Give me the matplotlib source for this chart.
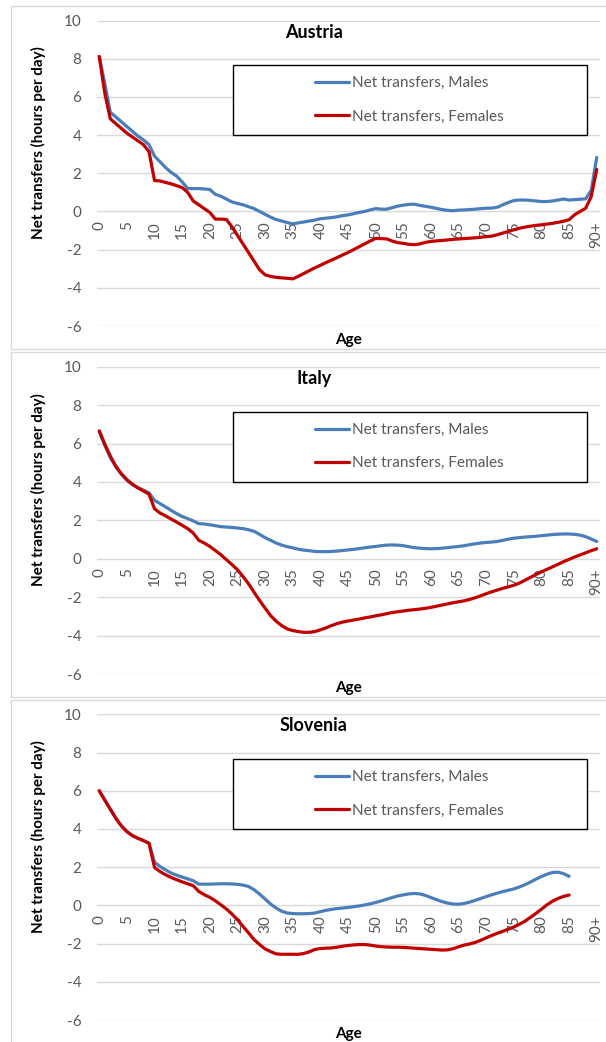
import numpy as np
import matplotlib
matplotlib.use("Agg")
import matplotlib.pyplot as plt
from matplotlib.patches import Rectangle

plt.rcParams['font.family'] = ['Lato', 'DejaVu Sans']
plt.rcParams['axes.unicode_minus'] = False

nan = np.nan
ages = list(range(0, 91))
tick_positions = list(range(0, 91, 5))
tick_labels = [str(a) for a in range(0, 90, 5)] + ['90+']

countries = ['Austria', 'Italy', 'Slovenia']

austria_males = [
    8.12, 6.7, 5.2, 4.95, 4.7, 4.45, 4.2, 3.95, 3.75, 3.5,
    2.9, 2.6, 2.3, 2.05, 1.85, 1.55, 1.2, 1.2, 1.2, 1.18,
    1.15, 0.9, 0.8, 0.65, 0.5, 0.42, 0.35, 0.25, 0.15, 0.0,
    -0.15, -0.3, -0.42, -0.5, -0.58, -0.65, -0.6, -0.55, -0.5, -0.45,
    -0.38, -0.35, -0.32, -0.28, -0.22, -0.18, -0.12, -0.05, 0.0, 0.08,
    0.15, 0.12, 0.12, 0.2, 0.28, 0.33, 0.37, 0.38, 0.32, 0.27,
    0.22, 0.16, 0.1, 0.06, 0.04, 0.07, 0.08, 0.1, 0.12, 0.15,
    0.17, 0.18, 0.22, 0.35, 0.47, 0.57, 0.6, 0.6, 0.58, 0.55,
    0.52, 0.52, 0.55, 0.6, 0.65, 0.6, 0.62, 0.64, 0.66, 1.1,
    2.83]
austria_females = [
    8.12, 6.2, 4.85, 4.6, 4.35, 4.1, 3.9, 3.7, 3.5, 3.13,
    1.62, 1.6, 1.52, 1.45, 1.35, 1.25, 1.0, 0.55, 0.35, 0.15,
    -0.05, -0.4, -0.4, -0.42, -0.8, -1.25, -1.7, -2.15, -2.6, -3.05,
    -3.32, -3.4, -3.45, -3.48, -3.5, -3.53, -3.4, -3.25, -3.1, -2.95,
    -2.82, -2.68, -2.55, -2.42, -2.28, -2.15, -2.0, -1.85, -1.7, -1.55,
    -1.41, -1.42, -1.44, -1.55, -1.63, -1.67, -1.72, -1.74, -1.7, -1.62,
    -1.57, -1.54, -1.52, -1.49, -1.46, -1.44, -1.42, -1.4, -1.38, -1.35,
    -1.32, -1.29, -1.22, -1.13, -1.05, -0.96, -0.88, -0.82, -0.77, -0.73,
    -0.7, -0.66, -0.62, -0.57, -0.51, -0.43, -0.17, 0.0, 0.17, 0.78,
    2.2]

italy_males = [
    6.61, 5.9, 5.27, 4.78, 4.4, 4.09, 3.86, 3.7, 3.57, 3.43,
    3.04, 2.87, 2.7, 2.52, 2.35, 2.2, 2.09, 1.97, 1.83, 1.81,
    1.77, 1.72, 1.67, 1.65, 1.63, 1.6, 1.57, 1.51, 1.43, 1.27,
    1.1, 0.96, 0.82, 0.71, 0.63, 0.57, 0.5, 0.45, 0.42, 0.38,
    0.37, 0.37, 0.38, 0.4, 0.43, 0.46, 0.49, 0.53, 0.57, 0.61,
    0.64, 0.68, 0.71, 0.72, 0.71, 0.68, 0.63, 0.58, 0.55, 0.53,
    0.52, 0.53, 0.55, 0.58, 0.61, 0.64, 0.68, 0.73, 0.78, 0.82,
    0.85, 0.87, 0.9, 0.96, 1.02, 1.07, 1.1, 1.13, 1.15, 1.17,
    1.2, 1.23, 1.26, 1.28, 1.29, 1.29, 1.27, 1.23, 1.15, 1.03,
    0.9]
italy_females = [
    6.66, 5.97, 5.34, 4.82, 4.43, 4.12, 3.88, 3.69, 3.53, 3.36,
    2.6, 2.38, 2.23, 2.07, 1.91, 1.74, 1.57, 1.34, 0.96, 0.82,
    0.64, 0.43, 0.21, -0.05, -0.3, -0.57, -0.92, -1.3, -1.74, -2.17,
    -2.57, -2.96, -3.25, -3.48, -3.65, -3.74, -3.79, -3.83, -3.83, -3.79,
    -3.7, -3.6, -3.48, -3.38, -3.3, -3.24, -3.19, -3.14, -3.08, -3.03,
    -2.97, -2.92, -2.86, -2.8, -2.76, -2.72, -2.68, -2.65, -2.62, -2.58,
    -2.53, -2.47, -2.41, -2.35, -2.29, -2.24, -2.19, -2.12, -2.03, -1.93,
    -1.82, -1.72, -1.63, -1.54, -1.46, -1.38, -1.27, -1.12, -0.97, -0.82,
    -0.68, -0.55, -0.42, -0.29, -0.15, -0.03, 0.09, 0.2, 0.31, 0.42,
    0.52]

slovenia_males = [
    6.0, 5.51, 5.03, 4.56, 4.16, 3.86, 3.65, 3.51, 3.39, 3.25,
    2.26, 2.03, 1.86, 1.69, 1.58, 1.48, 1.39, 1.29, 1.11, 1.11,
    1.11, 1.12, 1.13, 1.13, 1.12, 1.1, 1.06, 0.99, 0.82, 0.59,
    0.33, 0.07, -0.14, -0.31, -0.4, -0.43, -0.44, -0.44, -0.43, -0.4,
    -0.33, -0.26, -0.21, -0.17, -0.14, -0.11, -0.07, -0.03, 0.02, 0.08,
    0.15, 0.23, 0.32, 0.41, 0.49, 0.55, 0.6, 0.62, 0.6, 0.52,
    0.41, 0.3, 0.2, 0.12, 0.07, 0.06, 0.1, 0.17, 0.26, 0.36,
    0.46, 0.55, 0.64, 0.72, 0.79, 0.86, 0.96, 1.08, 1.22, 1.37,
    1.51, 1.63, 1.72, 1.74, 1.66, 1.52, nan, nan, nan, nan,
    nan]
slovenia_females = [
    6.0, 5.51, 5.03, 4.56, 4.16, 3.86, 3.65, 3.51, 3.39, 3.25,
    1.98, 1.77, 1.6, 1.46, 1.34, 1.23, 1.13, 1.03, 0.73, 0.56,
    0.42, 0.24, 0.03, -0.19, -0.45, -0.75, -1.1, -1.44, -1.79, -2.05,
    -2.28, -2.42, -2.54, -2.56, -2.56, -2.56, -2.56, -2.52, -2.43, -2.31,
    -2.26, -2.24, -2.23, -2.19, -2.14, -2.1, -2.07, -2.05, -2.05, -2.08,
    -2.13, -2.16, -2.18, -2.19, -2.19, -2.2, -2.22, -2.24, -2.26, -2.28,
    -2.3, -2.32, -2.34, -2.33, -2.27, -2.17, -2.08, -2.02, -1.94, -1.83,
    -1.7, -1.58, -1.46, -1.36, -1.25, -1.13, -0.99, -0.83, -0.63, -0.42,
    -0.2, 0.03, 0.22, 0.36, 0.47, 0.54, nan, nan, nan, nan,
    nan]

males = [austria_males, italy_males, slovenia_males]
females = [austria_females, italy_females, slovenia_females]

BLUE = '#4A7EBB'
RED = '#C00000'
GRID = '#D9D9D9'
TXT = '#595959'

W, H = 606, 1042
fig = plt.figure(figsize=(W / 100, H / 100), dpi=100)

ax_px = [(20.6, 326.0), (366.7, 674.0), (714.3, 1020.0)]
panel_px = [(6, 349), (352, 697), (700, 1060)]
left_px, right_px = 96.5, 599.5

for i in range(3):
    pt, pb = panel_px[i]
    fig.patches.append(Rectangle((11 / W, 1 - pb / H), (W + 20 - 11) / W, (pb - pt) / H,
                                 transform=fig.transFigure, fill=False,
                                 edgecolor=GRID, lw=1.0, zorder=0))
    top, bot = ax_px[i]
    ax = fig.add_axes([left_px / W, 1 - bot / H, (right_px - left_px) / W, (bot - top) / H])
    ax.set_xlim(-0.5, 90.5)
    ax.set_ylim(-6, 10)
    ax.set_yticks(range(-6, 11, 2))
    ax.set_xticks(tick_positions)
    ax.set_xticklabels(tick_labels)
    ax.tick_params(axis='x', length=0, pad=7, labelrotation=90,
                   labelsize=11, labelcolor=TXT)
    ax.tick_params(axis='y', length=0, pad=11, labelsize=11, labelcolor=TXT)
    ax.spines['bottom'].set_position(('data', 0))
    for s in ax.spines.values():
        s.set_visible(False)
    ax.grid(axis='y', color=GRID, lw=1.0)
    ax.set_axisbelow(True)
    ax.patch.set_alpha(0)

    ax.plot(ages, males[i], color=BLUE, lw=2.3, solid_capstyle='round',
            solid_joinstyle='round', label='Net transfers, Males')
    ax.plot(ages, females[i], color=RED, lw=2.3, solid_capstyle='round',
            solid_joinstyle='round', label='Net transfers, Females')

    ax.text(0.432, 0.962, countries[i], transform=ax.transAxes, ha='center',
            va='center', fontsize=13, fontweight='bold', color='black')
    ax.text(-0.115, 0.6, 'Net transfers (hours per day)', transform=ax.transAxes,
            rotation=90, ha='center', va='center', fontsize=10.9,
            fontweight='bold', color='black')
    ax.text(0.5, -0.045, 'Age', transform=ax.transAxes, ha='center',
            va='center', fontsize=11, fontweight='bold', color='black')

    lx0, lx1 = 0.271, 0.975
    ly0, ly1 = 0.626, 0.854
    ax.add_patch(Rectangle((lx0, ly0), lx1 - lx0, ly1 - ly0, transform=ax.transAxes,
                           facecolor='white', edgecolor='black', lw=1.0, zorder=5))
    leg = ax.legend(loc='center', bbox_to_anchor=((lx0 + lx1) / 2, (ly0 + ly1) / 2),
                    bbox_transform=ax.transAxes, frameon=False, fontsize=11.1,
                    handlelength=2.2, handletextpad=0.2, labelspacing=1.25,
                    borderpad=0, labelcolor=TXT)
    leg.set_zorder(6)

fig.savefig('out.png', dpi=100, facecolor='white')
